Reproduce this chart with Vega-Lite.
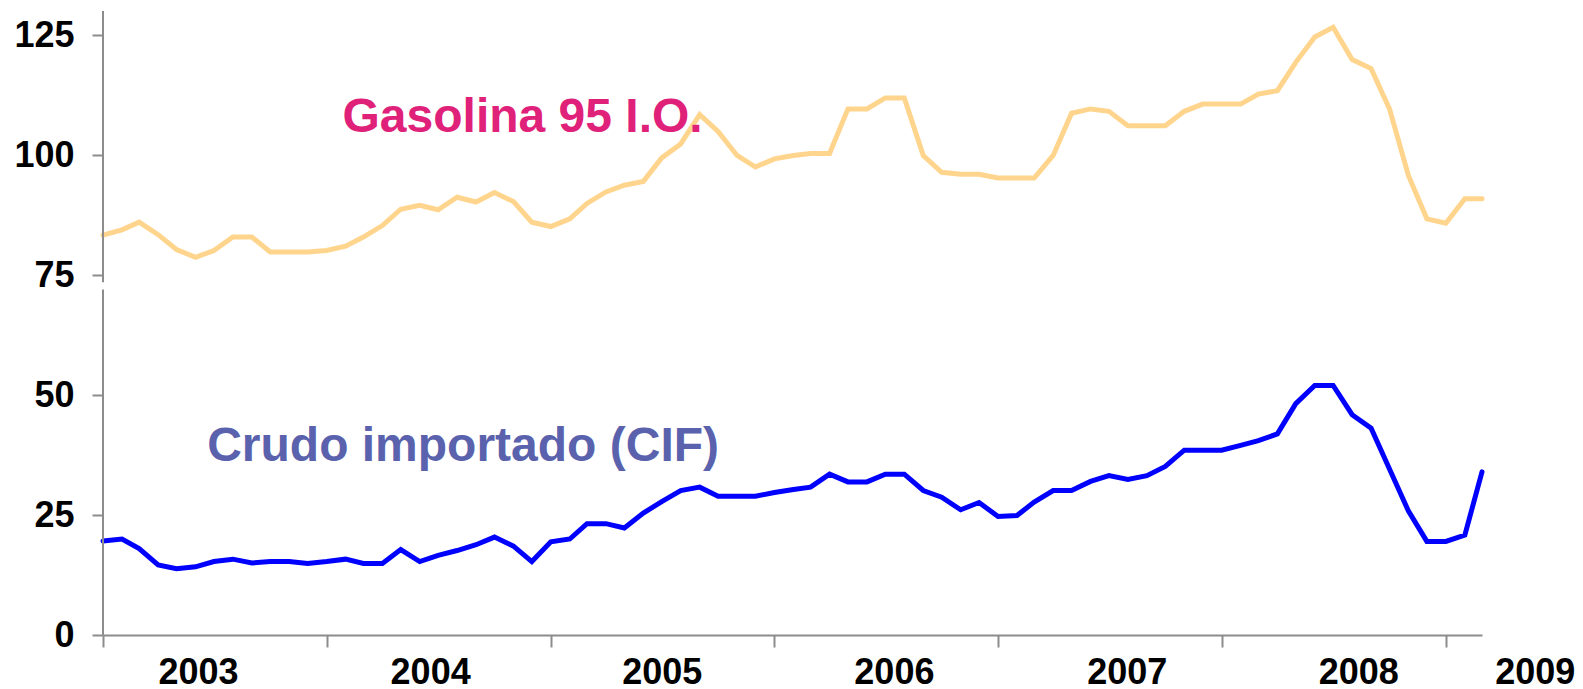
{
  "$schema": "https://vega.github.io/schema/vega-lite/v6.json",
  "width": 1379,
  "height": 624,
  "autosize": {"type": "none"},
  "padding": {"left": 103, "top": 11, "right": 101, "bottom": 54},
  "background": "white",
  "config": {"view": {"stroke": null}, "font": "Liberation Sans"},
  "data": {"values": [
    {"date": "2003-01-01", "gasolina": 83.3, "crudo": 19.6},
    {"date": "2003-02-01", "gasolina": 84.4, "crudo": 20.0},
    {"date": "2003-03-01", "gasolina": 86.0, "crudo": 18.0},
    {"date": "2003-04-01", "gasolina": 83.4, "crudo": 14.6},
    {"date": "2003-05-01", "gasolina": 80.3, "crudo": 13.8},
    {"date": "2003-06-01", "gasolina": 78.7, "crudo": 14.2},
    {"date": "2003-07-01", "gasolina": 80.1, "crudo": 15.3},
    {"date": "2003-08-01", "gasolina": 82.9, "crudo": 15.8},
    {"date": "2003-09-01", "gasolina": 82.9, "crudo": 15.0},
    {"date": "2003-10-01", "gasolina": 79.8, "crudo": 15.3},
    {"date": "2003-11-01", "gasolina": 79.8, "crudo": 15.3},
    {"date": "2003-12-01", "gasolina": 79.8, "crudo": 14.9},
    {"date": "2004-01-01", "gasolina": 80.1, "crudo": 15.3},
    {"date": "2004-02-01", "gasolina": 81.0, "crudo": 15.8},
    {"date": "2004-03-01", "gasolina": 82.9, "crudo": 14.9},
    {"date": "2004-04-01", "gasolina": 85.3, "crudo": 14.9},
    {"date": "2004-05-01", "gasolina": 88.7, "crudo": 17.8},
    {"date": "2004-06-01", "gasolina": 89.5, "crudo": 15.3},
    {"date": "2004-07-01", "gasolina": 88.6, "crudo": 16.6},
    {"date": "2004-08-01", "gasolina": 91.2, "crudo": 17.6},
    {"date": "2004-09-01", "gasolina": 90.2, "crudo": 18.8},
    {"date": "2004-10-01", "gasolina": 92.2, "crudo": 20.4},
    {"date": "2004-11-01", "gasolina": 90.3, "crudo": 18.5},
    {"date": "2004-12-01", "gasolina": 86.0, "crudo": 15.3},
    {"date": "2005-01-01", "gasolina": 85.1, "crudo": 19.4},
    {"date": "2005-02-01", "gasolina": 86.7, "crudo": 20.0},
    {"date": "2005-03-01", "gasolina": 89.9, "crudo": 23.2},
    {"date": "2005-04-01", "gasolina": 92.3, "crudo": 23.2},
    {"date": "2005-05-01", "gasolina": 93.7, "crudo": 22.3},
    {"date": "2005-06-01", "gasolina": 94.5, "crudo": 25.4},
    {"date": "2005-07-01", "gasolina": 99.4, "crudo": 27.8},
    {"date": "2005-08-01", "gasolina": 102.3, "crudo": 30.1},
    {"date": "2005-09-01", "gasolina": 108.4, "crudo": 30.8},
    {"date": "2005-10-01", "gasolina": 104.9, "crudo": 28.9},
    {"date": "2005-11-01", "gasolina": 99.9, "crudo": 28.9},
    {"date": "2005-12-01", "gasolina": 97.5, "crudo": 28.9},
    {"date": "2006-01-01", "gasolina": 99.2, "crudo": 29.7},
    {"date": "2006-02-01", "gasolina": 99.9, "crudo": 30.3},
    {"date": "2006-03-01", "gasolina": 100.3, "crudo": 30.8},
    {"date": "2006-04-01", "gasolina": 100.3, "crudo": 33.5},
    {"date": "2006-05-01", "gasolina": 109.6, "crudo": 31.9},
    {"date": "2006-06-01", "gasolina": 109.6, "crudo": 31.9},
    {"date": "2006-07-01", "gasolina": 111.9, "crudo": 33.5},
    {"date": "2006-08-01", "gasolina": 111.9, "crudo": 33.5},
    {"date": "2006-09-01", "gasolina": 99.9, "crudo": 30.1},
    {"date": "2006-10-01", "gasolina": 96.4, "crudo": 28.7},
    {"date": "2006-11-01", "gasolina": 96.0, "crudo": 26.1},
    {"date": "2006-12-01", "gasolina": 96.0, "crudo": 27.6},
    {"date": "2007-01-01", "gasolina": 95.2, "crudo": 24.7},
    {"date": "2007-02-01", "gasolina": 95.2, "crudo": 24.9},
    {"date": "2007-03-01", "gasolina": 95.2, "crudo": 27.7},
    {"date": "2007-04-01", "gasolina": 99.9, "crudo": 30.1},
    {"date": "2007-05-01", "gasolina": 108.7, "crudo": 30.1},
    {"date": "2007-06-01", "gasolina": 109.6, "crudo": 32.0},
    {"date": "2007-07-01", "gasolina": 109.1, "crudo": 33.2},
    {"date": "2007-08-01", "gasolina": 106.1, "crudo": 32.4},
    {"date": "2007-09-01", "gasolina": 106.1, "crudo": 33.2},
    {"date": "2007-10-01", "gasolina": 106.1, "crudo": 35.1},
    {"date": "2007-11-01", "gasolina": 109.1, "crudo": 38.5},
    {"date": "2007-12-01", "gasolina": 110.6, "crudo": 38.5},
    {"date": "2008-01-01", "gasolina": 110.6, "crudo": 38.5},
    {"date": "2008-02-01", "gasolina": 110.6, "crudo": 39.5},
    {"date": "2008-03-01", "gasolina": 112.7, "crudo": 40.5},
    {"date": "2008-04-01", "gasolina": 113.4, "crudo": 41.9},
    {"date": "2008-05-01", "gasolina": 119.3, "crudo": 48.2},
    {"date": "2008-06-01", "gasolina": 124.6, "crudo": 52.0},
    {"date": "2008-07-01", "gasolina": 126.6, "crudo": 52.0},
    {"date": "2008-08-01", "gasolina": 119.9, "crudo": 45.9},
    {"date": "2008-09-01", "gasolina": 118.0, "crudo": 43.1},
    {"date": "2008-10-01", "gasolina": 109.6, "crudo": 34.6},
    {"date": "2008-11-01", "gasolina": 95.7, "crudo": 25.8},
    {"date": "2008-12-01", "gasolina": 86.7, "crudo": 19.5},
    {"date": "2009-01-01", "gasolina": 85.8, "crudo": 19.5},
    {"date": "2009-02-01", "gasolina": 90.9, "crudo": 20.8},
    {"date": "2009-03-01", "gasolina": 90.9, "crudo": 34.0}
  ]},
  "layer": [
    {
      "transform": [{"fold": ["gasolina", "crudo"], "as": ["serie", "valor"]}],
      "mark": {"type": "line", "strokeWidth": 5, "strokeCap": "round", "zindex": 2},
      "encoding": {
        "x": {"field": "date", "type": "temporal",
              "scale": {"type": "utc", "domain": [{"year": 2003, "month": 1, "date": 1, "utc": true}, {"year": 2009, "month": 3, "date": 1, "utc": true}]},
              "axis": {
                "title": null,
                "grid": false,
                "values": [
                  {"year": 2003, "month": 1, "date": 1, "utc": true},
                  {"year": 2004, "month": 1, "date": 1, "utc": true},
                  {"year": 2005, "month": 1, "date": 1, "utc": true},
                  {"year": 2006, "month": 1, "date": 1, "utc": true},
                  {"year": 2007, "month": 1, "date": 1, "utc": true},
                  {"year": 2008, "month": 1, "date": 1, "utc": true},
                  {"year": 2009, "month": 1, "date": 1, "utc": true},
                  {"year": 2003, "month": 6, "date": 5, "utc": true},
                  {"year": 2004, "month": 6, "date": 18, "utc": true},
                  {"year": 2005, "month": 7, "date": 1, "utc": true},
                  {"year": 2006, "month": 7, "date": 15, "utc": true},
                  {"year": 2007, "month": 7, "date": 30, "utc": true},
                  {"year": 2008, "month": 8, "date": 11, "utc": true}
                ],
                "domainColor": "#8c8c8c",
                "domainWidth": 2,
                "tickColor": "#8c8c8c",
                "tickWidth": 2,
                "tickSize": 12,
                "tickOpacity": {"condition": {"test": "utcmonth(datum.value) == 0 && utcdate(datum.value) == 1", "value": 1}, "value": 0},
                "labelExpr": "utcmonth(datum.value) == 0 && utcdate(datum.value) == 1 && utcyear(datum.value) < 2009 ? '' : utcFormat(datum.value, '%Y')",
                "labelOffset": {"condition": {"test": "utcyear(datum.value) == 2009", "value": 89}, "value": 0},
                "labelFontSize": 36,
                "labelFontWeight": "bold",
                "labelColor": "#000000",
                "labelPadding": 8,
                "labelOverlap": false,
                "labelBound": false,
                "labelFlush": false
              }},
        "y": {"field": "valor", "type": "quantitative",
              "scale": {"domain": [0, 130], "nice": false},
              "axis": {
                "title": null,
                "grid": false,
                "domain": false,
                "values": [0, 25, 50, 75, 100, 125],
                "tickColor": "#8c8c8c",
                "tickWidth": 2,
                "tickSize": 11,
                "labelFontSize": 36,
                "labelFontWeight": "bold",
                "labelColor": "#000000",
                "labelPadding": 18
              }},
        "color": {"field": "serie", "type": "nominal",
                  "scale": {"domain": ["gasolina", "crudo"], "range": ["#FFD58E", "#0000FF"]},
                  "legend": null}
      }
    },
    {
      "data": {"values": [{}]},
      "mark": {"type": "rule", "color": "#8c8c8c", "strokeWidth": 2, "zindex": 1},
      "encoding": {
        "x": {"datum": {"year": 2003, "month": 1, "date": 1, "utc": true}, "type": "temporal", "title": null},
        "y": {"datum": 0, "type": "quantitative", "title": null},
        "y2": {"datum": 72}
      }
    },
    {
      "data": {"values": [{}]},
      "mark": {"type": "rule", "color": "#8c8c8c", "strokeWidth": 2, "zindex": 1},
      "encoding": {
        "x": {"datum": {"year": 2003, "month": 1, "date": 1, "utc": true}, "type": "temporal", "title": null},
        "y": {"datum": 73.5, "type": "quantitative", "title": null},
        "y2": {"datum": 130}
      }
    },
    {
      "data": {"values": [{}]},
      "mark": {"type": "text", "align": "left", "baseline": "alphabetic", "fontSize": 48, "fontWeight": "bold", "color": "#E0217A", "zindex": 3},
      "encoding": {
        "x": {"datum": {"year": 2004, "month": 1, "date": 27, "utc": true}, "type": "temporal", "title": null},
        "y": {"datum": 104.8, "type": "quantitative", "title": null},
        "text": {"value": "Gasolina 95 I.O."}
      }
    },
    {
      "data": {"values": [{}]},
      "mark": {"type": "text", "align": "left", "baseline": "alphabetic", "fontSize": 48, "fontWeight": "bold", "color": "#5A62AD", "zindex": 3},
      "encoding": {
        "x": {"datum": {"year": 2003, "month": 6, "date": 20, "utc": true}, "type": "temporal", "title": null},
        "y": {"datum": 36.2, "type": "quantitative", "title": null},
        "text": {"value": "Crudo importado (CIF)"}
      }
    }
  ]
}
